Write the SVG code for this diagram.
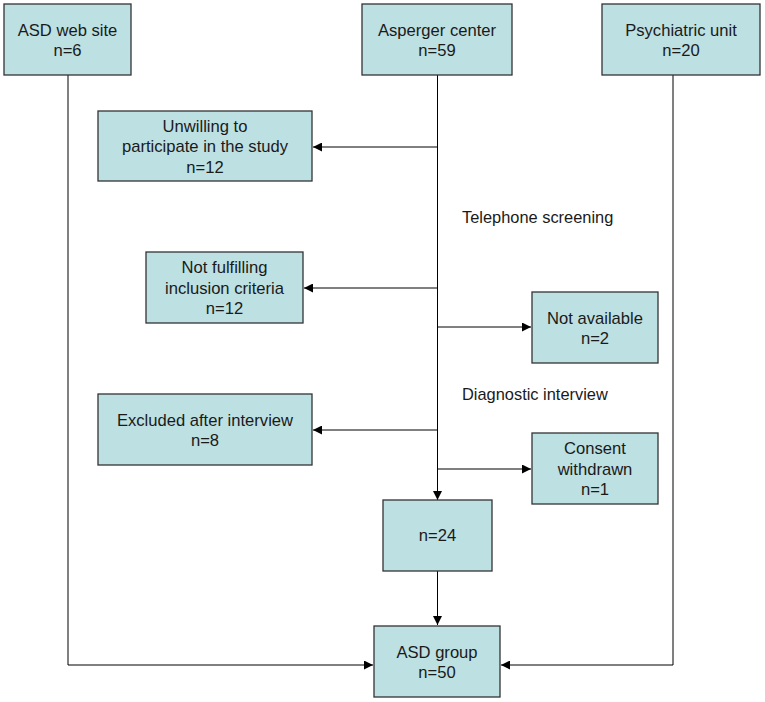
<svg xmlns="http://www.w3.org/2000/svg" width="765" height="702" viewBox="0 0 765 702">
<style>
.box{fill:#bde0e3;stroke:#333333;stroke-width:1.3}
.t{font-family:"Liberation Sans",Arial,sans-serif;font-size:16.6px;fill:#1a1a1a;text-anchor:middle}
.lbl{font-family:"Liberation Sans",Arial,sans-serif;font-size:16.4px;fill:#1a1a1a}
.c{fill:none;stroke:#000;stroke-width:1}
</style>
<defs>
<marker id="ah" viewBox="0 0 10 10" refX="10" refY="5" markerWidth="9" markerHeight="9" markerUnits="userSpaceOnUse" orient="auto">
<path d="M0,0 L10,5 L0,10 z" fill="#000"/>
</marker>
</defs>
<rect width="765" height="702" fill="#fff"/>
<g id="connectors">
<polyline class="c" points="68,75 68,665 373,665" marker-end="url(#ah)"/>
<polyline class="c" points="673,75 673,665 501,665" marker-end="url(#ah)"/>
<line class="c" x1="437.5" y1="75" x2="437.5" y2="500" marker-end="url(#ah)"/>
<line class="c" x1="437.5" y1="147" x2="313" y2="147" marker-end="url(#ah)"/>
<line class="c" x1="437.5" y1="288" x2="304" y2="288" marker-end="url(#ah)"/>
<line class="c" x1="437.5" y1="327" x2="531" y2="327" marker-end="url(#ah)"/>
<line class="c" x1="437.5" y1="430" x2="313" y2="430" marker-end="url(#ah)"/>
<line class="c" x1="437.5" y1="469" x2="531" y2="469" marker-end="url(#ah)"/>
<line class="c" x1="437.5" y1="571" x2="437.5" y2="625" marker-end="url(#ah)"/>
</g>
<g id="asd-web-site">
<rect class="box" x="4" y="4" width="127" height="71"/>
<text class="t" x="67.5" y="35.5">ASD web site</text>
<text class="t" x="67.5" y="56">n=6</text>
</g>
<g id="asperger-center">
<rect class="box" x="362" y="4" width="150" height="71"/>
<text class="t" x="437" y="35.5">Asperger center</text>
<text class="t" x="437" y="56">n=59</text>
</g>
<g id="psychiatric-unit">
<rect class="box" x="602" y="4" width="158" height="71"/>
<text class="t" x="681" y="35.5">Psychiatric unit</text>
<text class="t" x="681" y="56">n=20</text>
</g>
<g id="unwilling">
<rect class="box" x="98" y="111" width="214" height="70"/>
<text class="t" x="205" y="131.5">Unwilling to</text>
<text class="t" x="205" y="152">participate in the study</text>
<text class="t" x="205" y="172.5">n=12</text>
</g>
<g id="telephone-screening">
<text class="lbl" x="462" y="223">Telephone screening</text>
</g>
<g id="not-fulfilling">
<rect class="box" x="146" y="252" width="157" height="71"/>
<text class="t" x="224.5" y="273">Not fulfilling</text>
<text class="t" x="224.5" y="293.5">inclusion criteria</text>
<text class="t" x="224.5" y="314">n=12</text>
</g>
<g id="not-available">
<rect class="box" x="532" y="292" width="126" height="71"/>
<text class="t" x="595" y="323.5">Not available</text>
<text class="t" x="595" y="344">n=2</text>
</g>
<g id="diagnostic-interview">
<text class="lbl" x="462" y="400">Diagnostic interview</text>
</g>
<g id="excluded">
<rect class="box" x="98" y="394" width="214" height="71"/>
<text class="t" x="205" y="425.5">Excluded after interview</text>
<text class="t" x="205" y="446">n=8</text>
</g>
<g id="consent-withdrawn">
<rect class="box" x="532" y="433" width="126" height="71"/>
<text class="t" x="595" y="454">Consent</text>
<text class="t" x="595" y="474.5">withdrawn</text>
<text class="t" x="595" y="495">n=1</text>
</g>
<g id="n24">
<rect class="box" x="383" y="500" width="109" height="71"/>
<text class="t" x="437.5" y="541">n=24</text>
</g>
<g id="asd-group">
<rect class="box" x="374" y="626" width="126" height="71"/>
<text class="t" x="437" y="657.5">ASD group</text>
<text class="t" x="437" y="678">n=50</text>
</g>
</svg>
